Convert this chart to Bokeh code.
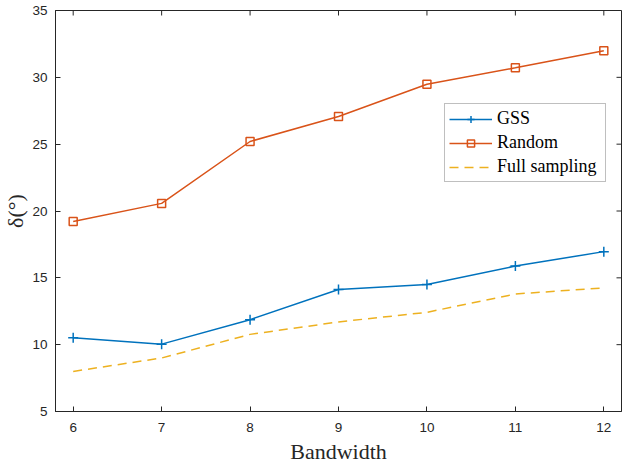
import math
from bokeh.plotting import figure
from bokeh.models import FixedTicker, Range1d, Legend
from bokeh.embed import file_html
from bokeh.resources import INLINE

bandwidth = [6, 7, 8, 9, 10, 11, 12]
gss = [10.52, 10.04, 11.87, 14.13, 14.50, 15.88, 16.96]
random_s = [19.22, 20.57, 25.20, 27.07, 29.48, 30.71, 31.99]
full = [8.00, 9.00, 10.77, 11.70, 12.42, 13.79, 14.25]

x_ticks = [6, 7, 8, 9, 10, 11, 12]
y_ticks = [5, 10, 15, 20, 25, 30, 35]
x_lim = (5.8, 12.2)
y_lim = (5, 35)

AX = "#262626"
p = figure(width=623, height=467, output_backend="svg", toolbar_location=None,
           x_range=Range1d(*x_lim), y_range=Range1d(*y_lim),
           min_border_left=54, min_border_right=2, min_border_top=10, min_border_bottom=56)
p.xgrid.visible = False
p.ygrid.visible = False
p.outline_line_color = AX
p.outline_line_width = 1
p.background_fill_color = "white"
p.border_fill_color = "white"

for ax in (p.xaxis[0], p.yaxis[0]):
    ax.major_tick_in = 5
    ax.major_tick_out = 0
    ax.minor_tick_in = 0
    ax.minor_tick_out = 0
    ax.axis_line_color = AX
    ax.major_tick_line_color = AX
    ax.major_label_text_font = "Liberation Sans"
    ax.major_label_text_font_size = "13.5px"
    ax.major_label_text_color = AX
    ax.axis_label_text_font = "Liberation Serif"
    ax.axis_label_text_font_style = "normal"
    ax.axis_label_text_font_size = "22px"
    ax.axis_label_text_color = AX
p.xaxis[0].ticker = FixedTicker(ticks=x_ticks)
p.yaxis[0].ticker = FixedTicker(ticks=y_ticks)
p.xaxis[0].axis_label = "Bandwidth"
p.yaxis[0].axis_label = "δ(°)"
p.xaxis[0].major_label_standoff = 11
p.xaxis[0].axis_label_standoff = 4
p.yaxis[0].major_label_standoff = 8
p.yaxis[0].axis_label_standoff = 1

# inward ticks on the top and right edges of the box
p.ray(x=x_ticks, y=[y_lim[1]] * len(x_ticks), length=5, angle=-math.pi / 2,
      length_units="screen", line_color=AX, line_width=1)
p.ray(x=[x_lim[1]] * len(y_ticks), y=y_ticks, length=5, angle=math.pi,
      length_units="screen", line_color=AX, line_width=1)

blue = "#0072BD"
orange = "#D95319"
yellow = "#EDB120"

l1 = p.line(bandwidth, gss, line_color=blue, line_width=1.5)
m1 = p.scatter(bandwidth, gss, marker="cross", size=10, line_color=blue, line_width=1.5)
l2 = p.line(bandwidth, random_s, line_color=orange, line_width=1.5)
m2 = p.scatter(bandwidth, random_s, marker="square", size=8, line_color=orange,
               fill_color=None, line_width=1.5)
l3 = p.line(bandwidth, full, line_color=yellow, line_width=1.5, line_dash="9 6")

legend = Legend(items=[("GSS", [l1, m1]), ("Random", [l2, m2]), ("Full sampling", [l3])],
                location=(389, 229))
legend.label_text_font = "Liberation Serif"
legend.label_text_font_size = "18px"
legend.label_text_color = "black"
legend.glyph_width = 43
legend.glyph_height = 18
legend.label_height = 18
legend.label_width = 104
legend.spacing = 3
legend.padding = 4
legend.margin = 0
legend.label_standoff = 5
legend.border_line_color = "#808080"
legend.border_line_width = 1
legend.background_fill_color = "white"
legend.background_fill_alpha = 1
p.add_layout(legend, "center")

open("out.html", "w").write(file_html(p, INLINE))
